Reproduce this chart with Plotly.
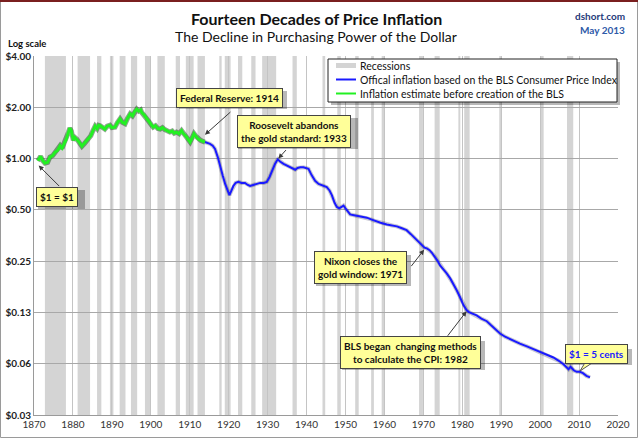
import math
import plotly.graph_objects as go

# ---------------- data ----------------
est_years = [1871.0, 1871.7, 1872.3, 1872.8, 1873.5, 1874.1, 1874.8, 1875.4, 1876.1, 1876.7,
             1877.2, 1877.7, 1878.3, 1878.8, 1879.2, 1879.6, 1880.1, 1880.5, 1881.0, 1881.6,
             1882.3, 1882.9, 1883.5, 1884.0, 1884.6, 1885.1, 1885.7, 1886.2, 1886.6, 1887.0,
             1887.6, 1888.2, 1888.8, 1889.5, 1890.0, 1890.8, 1891.4, 1892.1, 1892.7, 1893.4,
             1894.0, 1894.7, 1895.3, 1895.8, 1896.4, 1896.9, 1897.4, 1897.7, 1898.3, 1899.0,
             1899.6, 1900.1, 1900.6, 1901.2, 1901.8, 1902.4, 1903.0, 1903.6, 1904.2, 1904.9,
             1905.5, 1906.0, 1906.6, 1907.3, 1907.9, 1908.4, 1909.2, 1909.7, 1910.1, 1910.6,
             1911.1, 1911.5, 1912.2, 1912.8, 1913.4, 1913.9]
est_values = [0.97, 1.03, 0.97, 0.94, 0.95, 1.02, 1.04, 1.09, 1.12, 1.19,
              1.15, 1.22, 1.30, 1.42, 1.51, 1.45, 1.28, 1.33, 1.30, 1.25,
              1.18, 1.22, 1.27, 1.31, 1.36, 1.45, 1.55, 1.50, 1.57, 1.56,
              1.52, 1.49, 1.55, 1.57, 1.52, 1.53, 1.62, 1.71, 1.63, 1.60,
              1.72, 1.83, 1.78, 1.88, 1.95, 1.90, 1.93, 1.86, 1.80, 1.71,
              1.64, 1.58, 1.53, 1.56, 1.50, 1.49, 1.52, 1.48, 1.45, 1.43,
              1.45, 1.41, 1.43, 1.40, 1.46, 1.40, 1.34, 1.28, 1.25, 1.32,
              1.40, 1.36, 1.30, 1.28, 1.26, 1.25]

cpi_years = [1913.9, 1914.5, 1915.2, 1915.9, 1916.5, 1917.2, 1917.8, 1918.5, 1919.1, 1919.7,
             1920.2, 1920.6, 1921.2, 1921.8, 1922.5, 1923.3, 1924.2, 1924.9, 1925.5, 1926.3,
             1927.2, 1928.1, 1929.0, 1929.8, 1930.5, 1931.1, 1931.9, 1932.6, 1933.2, 1934.1,
             1935.0, 1935.8, 1936.5, 1937.1, 1937.7, 1938.4, 1939.2, 1940.0, 1940.5, 1941.3,
             1942.2, 1943.1, 1944.0, 1945.2, 1945.9, 1946.5, 1947.2, 1947.8, 1948.4, 1949.0,
             1949.5, 1950.0, 1951.2, 1952.2, 1953.3, 1954.4, 1955.5, 1956.6, 1957.6, 1959.0,
             1960.6, 1962.0, 1963.2, 1964.5, 1965.7, 1966.8, 1967.9, 1968.8, 1969.6, 1970.3,
             1970.9, 1971.6, 1972.2, 1973.0, 1973.7, 1974.3, 1975.1, 1976.0, 1976.9, 1977.7,
             1978.6, 1979.4, 1980.3, 1981.1, 1981.6, 1982.6, 1983.7, 1984.9, 1986.3, 1987.4,
             1988.6, 1989.7, 1991.0, 1992.3, 1993.1, 1994.8, 1996.6, 1998.3, 2000.0, 2001.7,
             2003.4, 2004.8, 2006.0, 2007.3, 2007.8, 2008.1, 2008.7, 2009.4, 2010.2, 2011.0,
             2011.9, 2012.8]
cpi_values = [1.25, 1.24, 1.22, 1.19, 1.14, 1.02, 0.89, 0.79, 0.71, 0.66,
              0.61, 0.64, 0.69, 0.72, 0.73, 0.72, 0.72, 0.70, 0.69, 0.70,
              0.71, 0.72, 0.72, 0.73, 0.78, 0.85, 0.93, 0.99, 0.96, 0.93,
              0.91, 0.89, 0.88, 0.86, 0.88, 0.89, 0.89, 0.88, 0.87, 0.80,
              0.74, 0.71, 0.70, 0.68, 0.65, 0.61, 0.55, 0.52, 0.51, 0.52,
              0.53, 0.51, 0.47, 0.465, 0.46, 0.455, 0.45, 0.44, 0.43, 0.42,
              0.41, 0.405, 0.40, 0.39, 0.38, 0.36, 0.34, 0.325, 0.31, 0.30,
              0.297, 0.29, 0.28, 0.265, 0.25, 0.236, 0.225, 0.212, 0.198, 0.184,
              0.168, 0.154, 0.138, 0.129, 0.126, 0.123, 0.120, 0.115, 0.111, 0.105,
              0.099, 0.094, 0.090, 0.087, 0.086, 0.082, 0.079, 0.076, 0.073, 0.070,
              0.068, 0.065, 0.062, 0.058, 0.060, 0.059, 0.057, 0.056, 0.056, 0.055,
              0.053, 0.052]

rec_start = [1872.8, 1881.2, 1886.2, 1889.5, 1892.0, 1894.9, 1898.5, 1901.7, 1906.4, 1909.0,
             1912.0, 1917.6, 1919.0, 1922.4, 1925.8, 1928.6, 1936.4, 1944.1, 1947.9, 1952.5,
             1956.6, 1959.3, 1968.9, 1972.9, 1979.0, 1980.5, 1989.5, 2000.2, 2006.9]
rec_end = [1878.2, 1884.4, 1887.3, 1890.4, 1893.5, 1896.5, 1900.0, 1903.6, 1907.5, 1911.0,
           1913.9, 1918.2, 1920.5, 1923.5, 1926.9, 1932.2, 1937.5, 1944.8, 1948.8, 1953.4,
           1957.3, 1960.1, 1969.9, 1974.2, 1979.5, 1981.9, 1990.2, 2000.9, 2008.5]

y_tick_vals = [0.03125, 0.0625, 0.125, 0.25, 0.5, 1, 2, 4]
y_tick_text = ["$0.03", "$0.06", "$0.13", "$0.25", "$0.50", "$1.00", "$2.00", "$4.00"]
x_tick_vals = [1870, 1880, 1890, 1900, 1910, 1920, 1930, 1940, 1950, 1960, 1970, 1980, 1990, 2000, 2010, 2020]

legend_names = ["Recessions",
                "Offical inflation based on the BLS Consumer Price Index",
                "Inflation estimate before creation of the BLS"]

# ---------------- layout geometry ----------------
W, H = 638, 438
L, R, T, B = 34, 20, 56, 23
PW, PH = W - L - R, H - T - B
FONT = "Lato"
REC_COL = "#d4d4d4"
BLUE = "#1a1aff"
GREEN = "#22f022"
SHADOW = "rgba(0,0,0,0.28)"


def pxp(xp):
    return (xp - L) / PW


def pyp(yp):
    return (H - B - yp) / PH


fig = go.Figure()

fig.add_trace(go.Scatter(x=cpi_years, y=cpi_values, mode="lines",
                         line=dict(color="rgba(0,0,60,0.22)", width=4),
                         showlegend=False, hoverinfo="skip"))
fig.add_trace(go.Scatter(x=cpi_years, y=cpi_values, mode="lines",
                         line=dict(color=BLUE, width=2), name=legend_names[1]))
fig.add_trace(go.Scatter(x=est_years, y=est_values, mode="lines",
                         line=dict(color="rgba(0,60,0,0.45)", width=5),
                         showlegend=False, hoverinfo="skip"))
fig.add_trace(go.Scatter(x=est_years, y=est_values, mode="lines",
                         line=dict(color=GREEN, width=3), name=legend_names[2]))

shapes = []
for s, e in zip(rec_start, rec_end):
    shapes.append(dict(type="rect", xref="x", yref="paper", x0=s, x1=e, y0=0, y1=1,
                       fillcolor=REC_COL, line=dict(width=0), layer="below"))

# outer frame
shapes.append(dict(type="rect", xref="paper", yref="paper",
                   x0=pxp(0.5), x1=pxp(W - 0.5), y0=pyp(H - 0.5), y1=pyp(0.5),
                   line=dict(color="#9a9a9a", width=1), fillcolor="rgba(0,0,0,0)"))
shapes.append(dict(type="line", xref="paper", yref="paper",
                   x0=pxp(0), x1=pxp(W), y0=pyp(1), y1=pyp(1),
                   line=dict(color="#7a1f1f", width=2)))

# manual legend box (shadow, box, samples)
shapes.append(dict(type="rect", xref="paper", yref="paper",
                   x0=pxp(331), x1=pxp(620), y0=pyp(105), y1=pyp(62),
                   fillcolor=SHADOW, line=dict(width=0), layer="above"))
shapes.append(dict(type="rect", xref="paper", yref="paper",
                   x0=pxp(328), x1=pxp(617), y0=pyp(102), y1=pyp(59),
                   fillcolor="white", line=dict(color="#222222", width=1), layer="above"))
legend_rows = [(65.5, REC_COL, 5), (79.5, BLUE, 2), (93.5, GREEN, 2)]
for yy, col, wd in legend_rows:
    shapes.append(dict(type="line", xref="paper", yref="paper",
                       x0=pxp(336), x1=pxp(356), y0=pyp(yy), y1=pyp(yy),
                       line=dict(color=col, width=wd), layer="above"))

# drop shadows behind the callout boxes (pixel extents of each box)
box_extents = [(35, 82, 187, 206), (176, 284, 88, 106), (235, 355, 115, 146),
               (313, 408, 252, 283), (339, 482, 338, 367), (563, 629, 346, 362)]
for x0, x1, y0, y1 in box_extents:
    shapes.append(dict(type="rect", xref="paper", yref="paper",
                       x0=pxp(x0 + 3), x1=pxp(x1 + 3), y0=pyp(y1 + 3), y1=pyp(y0 + 3),
                       fillcolor=SHADOW, line=dict(width=0), layer="above"))

# "$1 = 5 cents" callout tail
shapes.append(dict(type="path", xref="paper", yref="paper",
                   path="M {} {} L {} {} L {} {} Z".format(pxp(586), pyp(361), pxp(580), pyp(371),
                                                          pxp(595), pyp(361)),
                   fillcolor="#ffff99", line=dict(color="#555555", width=1), layer="above"))

annotations = []
for (yy, _, _), name in zip(legend_rows, legend_names):
    annotations.append(dict(xref="paper", yref="paper", x=pxp(357.5), y=pyp(yy), text=name,
                            showarrow=False, xanchor="left", yanchor="middle",
                            font=dict(family=FONT, size=10.5, color="#111111")))

# headings
annotations += [
    dict(xref="paper", yref="paper", x=pxp(316), y=pyp(18), text="<b>Fourteen Decades of Price Inflation</b>",
         showarrow=False, font=dict(family=FONT, size=16, color="#111111"), xanchor="center", yanchor="middle"),
    dict(xref="paper", yref="paper", x=pxp(316), y=pyp(37), text="The Decline in Purchasing Power of the Dollar",
         showarrow=False, font=dict(family=FONT, size=14, color="#111111"), xanchor="center", yanchor="middle"),
    dict(xref="paper", yref="paper", x=pxp(627), y=pyp(16), text="<b>dshort.com</b>",
         showarrow=False, font=dict(family=FONT, size=10, color="#1f3a7a"), xanchor="right", yanchor="middle"),
    dict(xref="paper", yref="paper", x=pxp(627), y=pyp(30), text="<b>May 2013</b>",
         showarrow=False, font=dict(family=FONT, size=10, color="#2e5aa8"), xanchor="right", yanchor="middle"),
    dict(xref="paper", yref="paper", x=pxp(6), y=pyp(43), text="<b>Log scale</b>",
         showarrow=False, font=dict(family=FONT, size=9.5, color="#111111"), xanchor="left", yanchor="middle"),
]

# callout boxes: (text, year, value, text colour)
callouts = [
    ("<b>$1 = $1</b>", 1876.0, 0.598, "#111111"),
    ("<b>Federal Reserve: 1914</b>", 1920.3, 2.256, "#111111"),
    ("<b>Roosevelt abandons<br>the gold standard: 1933</b>", 1936.8, 1.45, "#111111"),
    ("<b>Nixon closes the<br>gold window: 1971</b>", 1953.9, 0.229, "#111111"),
    ("<b>BLS began  changing methods<br>to calculate the CPI: 1982</b>", 1966.7, 0.0728, "#111111"),
    ("<b>$1 = 5 cents</b>", 2014.6, 0.0708, BLUE),
]
for text, yr, v, col in callouts:
    annotations.append(dict(xref="x", yref="y", x=yr, y=math.log10(v), text=text, showarrow=False,
                            xanchor="center", yanchor="middle", borderwidth=1, borderpad=3,
                            align="center", bgcolor="#ffff99", bordercolor="#444444",
                            font=dict(family=FONT, size=10, color=col)))

# arrows: (tip year, tip value, ax, ay)
arrows = [
    (1871.2, 0.91, 22, 22),
    (1913.9, 1.38, 27, -24),
    (1932.75, 1.0, 9, -10),
    (1970.2, 0.292, -14, 18),
    (1981.1, 0.127, -20, 26),
]
for yr, v, ax, ay in arrows:
    annotations.append(dict(xref="x", yref="y", x=yr, y=math.log10(v), text="", showarrow=True,
                            ax=ax, ay=ay, arrowhead=2, arrowsize=1, arrowwidth=1,
                            arrowcolor="#3a3a3a"))

fig.update_layout(
    width=W, height=H,
    margin=dict(l=L, r=R, t=T, b=B, pad=0, autoexpand=False),
    paper_bgcolor="white", plot_bgcolor="white",
    font=dict(family=FONT, size=10, color="#222222"),
    showlegend=False,
    shapes=shapes,
    annotations=annotations,
    xaxis=dict(range=[1870, 2020], tickmode="array", tickvals=x_tick_vals,
               ticktext=[str(v) for v in x_tick_vals], showgrid=True, gridcolor="#c4c4c4",
               gridwidth=1, zeroline=False, showline=True, linecolor="#9a9a9a", ticks="",
               automargin=False, tickfont=dict(family=FONT, size=10, color="#333333")),
    yaxis=dict(type="log", range=[math.log10(y_tick_vals[0]), math.log10(y_tick_vals[-1])],
               tickmode="array", tickvals=y_tick_vals,
               ticktext=["<b>" + t + "</b>" for t in y_tick_text],
               showgrid=True, gridcolor="#a8a8a8", gridwidth=1, zeroline=False,
               showline=True, linecolor="#9a9a9a", ticks="", automargin=False,
               tickfont=dict(family=FONT, size=10, color="#222222")),
)

fig.write_html("out.html", config={"displayModeBar": False},
               post_script="document.body.style.margin='0px';")
